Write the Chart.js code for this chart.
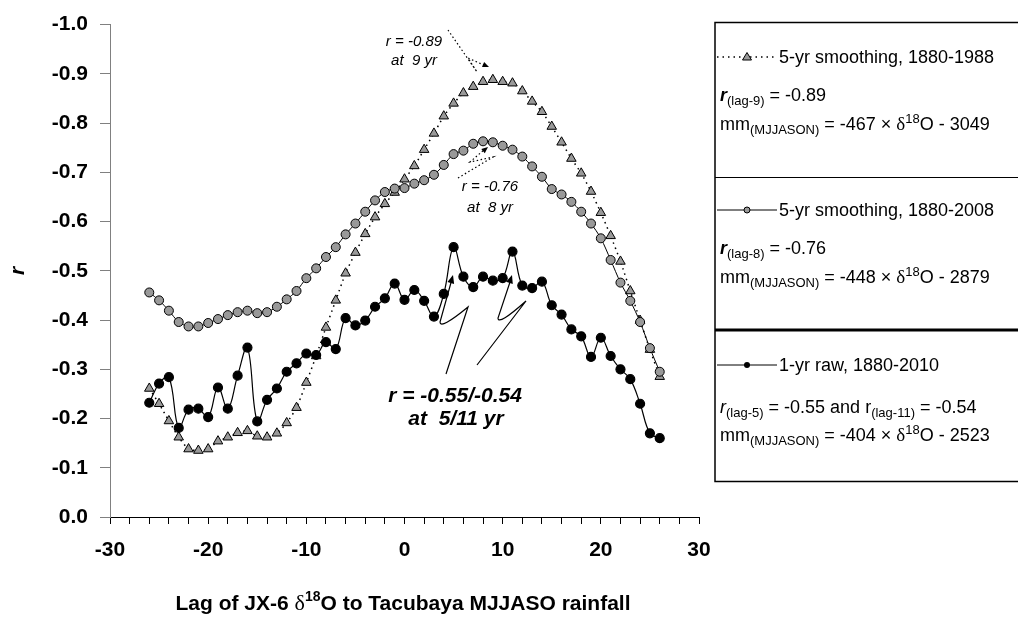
<!DOCTYPE html>
<html lang="en">
<head>
<meta charset="UTF-8">
<title>Lag correlation JX-6 vs Tacubaya</title>
<style>
  html, body { margin: 0; padding: 0; background: #fff; }
  #wrap { width: 1018px; height: 623px; }
</style>
<script src="https://cdn.jsdelivr.net/npm/chart.js"></script>
</head>
<body>
<div id="wrap"><canvas id="lagChart" width="1018" height="623"></canvas></div>
<script>
// lag in years, -26 .. 26
const lags = [-26, -25, -24, -23, -22, -21, -20, -19, -18, -17, -16, -15, -14, -13, -12, -11, -10, -9, -8, -7, -6, -5, -4, -3, -2, -1,
    0, 1, 2, 3, 4, 5, 6, 7, 8, 9, 10, 11, 12, 13, 14, 15, 16, 17, 18, 19, 20, 21, 22, 23, 24, 25, 26];

// 5-yr smoothing, 1880-1988 (triangles)
const smooth1988 = [-0.261, -0.230, -0.195, -0.162, -0.138, -0.135, -0.138, -0.154, -0.162, -0.171, -0.175, -0.164, -0.162, -0.170, -0.191, -0.222,
    -0.273, -0.327, -0.385, -0.440, -0.495, -0.537, -0.575, -0.609, -0.636, -0.659,
    -0.686, -0.713, -0.746, -0.779, -0.814, -0.840, -0.861, -0.874, -0.884, -0.888, -0.884, -0.881, -0.865, -0.844, -0.823, -0.793, -0.761,
    -0.728, -0.698, -0.661, -0.618, -0.571, -0.519, -0.459, -0.399, -0.340, -0.285];

// 5-yr smoothing, 1880-2008 (grey circles)
const smooth2008 = [-0.456, -0.440, -0.419, -0.396, -0.387, -0.387, -0.394, -0.402, -0.410, -0.416, -0.419, -0.414, -0.416, -0.427, -0.442, -0.459,
    -0.485, -0.505, -0.528, -0.548, -0.574, -0.596, -0.620, -0.643, -0.660, -0.667,
    -0.668, -0.677, -0.684, -0.695, -0.715, -0.737, -0.744, -0.758, -0.763, -0.761, -0.754, -0.746, -0.732, -0.712, -0.691, -0.666, -0.655,
    -0.640, -0.620, -0.596, -0.566, -0.522, -0.476, -0.439, -0.396, -0.343, -0.295];

// 1-yr raw, 1880-2010 (black circles)
const raw2010 = [-0.232, -0.271, -0.284, -0.181, -0.218, -0.220, -0.203, -0.263, -0.220, -0.287, -0.344, -0.194, -0.238, -0.261, -0.295, -0.312,
    -0.332, -0.329, -0.355, -0.341, -0.404, -0.389, -0.399, -0.427, -0.444, -0.474,
    -0.441, -0.461, -0.439, -0.407, -0.453, -0.548, -0.488, -0.467, -0.488, -0.480, -0.485, -0.539, -0.470, -0.465, -0.478, -0.430, -0.411,
    -0.381, -0.367, -0.325, -0.364, -0.327, -0.300, -0.280, -0.230, -0.170, -0.160];

const xLabelTicks = [-30, -20, -10, 0, 10, 20, 30];

const GREY = '#999999';

function pts(ys) {
    return lags.map((x, i) => ({ x: x, y: ys[i] }));
}

// draw a run of text pieces (normal / sub / sup) starting at x, baseline y
function rich(ctx, x, y, parts) {
    ctx.textAlign = 'left';
    ctx.textBaseline = 'alphabetic';
    parts.forEach(p => {
        ctx.font = p.f;
        ctx.fillText(p.t, x, y + (p.dy || 0));
        x += ctx.measureText(p.t).width;
    });
    return x;
}

function richWidth(ctx, parts) {
    let w = 0;
    parts.forEach(p => { ctx.font = p.f; w += ctx.measureText(p.t).width; });
    return w;
}

function arrowHead(ctx, x0, y0, x1, y1, size) {
    const a = Math.atan2(y1 - y0, x1 - x0);
    ctx.save();
    ctx.setLineDash([]);
    ctx.beginPath();
    ctx.moveTo(x1, y1);
    ctx.lineTo(x1 - size * Math.cos(a - 0.4), y1 - size * Math.sin(a - 0.4));
    ctx.lineTo(x1 - size * Math.cos(a + 0.4), y1 - size * Math.sin(a + 0.4));
    ctx.closePath();
    ctx.fill();
    ctx.restore();
}

const FONT = '"Liberation Sans", Arial, sans-serif';
const SERIF = '"Liberation Serif", "Times New Roman", serif';

const extras = {
    id: 'extras',
    afterDraw(chart) {
        const ctx = chart.ctx;
        ctx.save();
        ctx.fillStyle = '#000';
        ctx.strokeStyle = '#000';

        // ---- legend box ----
        const bx = 715, by = 22.5, bb = 481.5;
        ctx.lineWidth = 1.5;
        ctx.beginPath();
        ctx.moveTo(1020, by); ctx.lineTo(bx, by); ctx.lineTo(bx, bb); ctx.lineTo(1020, bb);
        ctx.stroke();
        ctx.lineWidth = 1;
        ctx.beginPath(); ctx.moveTo(bx, 177.5); ctx.lineTo(1020, 177.5); ctx.stroke();
        ctx.lineWidth = 3;
        ctx.beginPath(); ctx.moveTo(bx, 330); ctx.lineTo(1020, 330); ctx.stroke();

        const f18 = '18px ' + FONT;
        const f13 = '13px ' + FONT;
        const bi18 = 'italic bold 18px ' + FONT;
        const i18 = 'italic 18px ' + FONT;
        const d18 = '19px ' + SERIF;
        const tx = 720;

        // entry 1 - triangles, dotted
        ctx.lineWidth = 1.5;
        ctx.setLineDash([1.5, 4]);
        ctx.beginPath(); ctx.moveTo(717, 57); ctx.lineTo(777, 57); ctx.stroke();
        ctx.setLineDash([]);
        ctx.fillStyle = GREY;
        ctx.lineWidth = 1;
        ctx.beginPath(); ctx.moveTo(747, 52.5); ctx.lineTo(751.5, 60); ctx.lineTo(742.5, 60); ctx.closePath();
        ctx.fill(); ctx.stroke();
        ctx.fillStyle = '#000';
        rich(ctx, 779, 63, [{ t: '5-yr smoothing, 1880-1988', f: f18 }]);
        rich(ctx, tx, 101, [{ t: 'r', f: bi18 }, { t: '(lag-9)', f: f13, dy: 4 }, { t: ' = -0.89', f: f18 }]);
        rich(ctx, tx, 130, [{ t: 'mm', f: f18 }, { t: '(MJJASON)', f: f13, dy: 4 }, { t: ' = -467 \u00d7 ', f: f18 },
            { t: '\u03b4', f: d18 }, { t: '18', f: f13, dy: -7 }, { t: 'O - 3049', f: f18 }]);

        // entry 2 - grey circles
        ctx.lineWidth = 1;
        ctx.beginPath(); ctx.moveTo(717, 210); ctx.lineTo(777, 210); ctx.stroke();
        ctx.fillStyle = GREY;
        ctx.beginPath(); ctx.arc(747, 210, 3, 0, Math.PI * 2); ctx.fill(); ctx.stroke();
        ctx.fillStyle = '#000';
        rich(ctx, 779, 216, [{ t: '5-yr smoothing, 1880-2008', f: f18 }]);
        rich(ctx, tx, 254, [{ t: 'r', f: bi18 }, { t: '(lag-8)', f: f13, dy: 4 }, { t: ' = -0.76', f: f18 }]);
        rich(ctx, tx, 283, [{ t: 'mm', f: f18 }, { t: '(MJJASON)', f: f13, dy: 4 }, { t: ' = -448 \u00d7 ', f: f18 },
            { t: '\u03b4', f: d18 }, { t: '18', f: f13, dy: -7 }, { t: 'O - 2879', f: f18 }]);

        // entry 3 - black circles
        ctx.beginPath(); ctx.moveTo(717, 365); ctx.lineTo(777, 365); ctx.stroke();
        ctx.beginPath(); ctx.arc(747, 365, 3, 0, Math.PI * 2); ctx.fill();
        rich(ctx, 779, 371, [{ t: '1-yr raw, 1880-2010', f: f18 }]);
        rich(ctx, tx, 413, [{ t: 'r', f: i18 }, { t: '(lag-5)', f: f13, dy: 4 }, { t: ' = -0.55 and r', f: f18 },
            { t: '(lag-11)', f: f13, dy: 4 }, { t: ' = -0.54', f: f18 }]);
        rich(ctx, tx, 441, [{ t: 'mm', f: f18 }, { t: '(MJJASON)', f: f13, dy: 4 }, { t: ' = -404 \u00d7 ', f: f18 },
            { t: '\u03b4', f: d18 }, { t: '18', f: f13, dy: -7 }, { t: 'O - 2523', f: f18 }]);

        // ---- x axis title ----
        const b21 = 'bold 21px ' + FONT;
        const tparts = [{ t: 'Lag of JX-6 ', f: b21 }, { t: '\u03b4', f: '22px ' + SERIF }, { t: '18', f: 'bold 14px ' + FONT, dy: -9 },
            { t: 'O to Tacubaya MJJASO rainfall', f: b21 }];
        const tw = richWidth(ctx, tparts);
        rich(ctx, 403 - tw / 2, 610, tparts);

        // ---- annotations ----
        ctx.textAlign = 'center';
        ctx.textBaseline = 'middle';
        ctx.font = 'italic 15px ' + FONT;
        ctx.fillText('r = -0.89', 414, 42);
        ctx.fillText('at  9 yr', 414, 61);
        ctx.fillText('r = -0.76', 490, 187);
        ctx.fillText('at  8 yr', 490, 208);
        ctx.font = 'italic bold 21px ' + FONT;
        ctx.fillText('r = -0.55/-0.54', 455, 396);
        ctx.fillText('at  5/11 yr', 456, 419);

        // dotted arrows (grey series / triangle series)
        ctx.lineWidth = 1.2;
        ctx.setLineDash([1.5, 2.5]);
        ctx.beginPath();
        ctx.moveTo(448, 30); ctx.lineTo(477, 72); ctx.lineTo(468, 58); ctx.lineTo(486, 66);
        ctx.stroke();
        arrowHead(ctx, 468, 58, 489, 67, 7);
        ctx.beginPath();
        ctx.moveTo(458, 178); ctx.lineTo(493, 157); ctx.lineTo(470, 162); ctx.lineTo(485, 149);
        ctx.stroke();
        arrowHead(ctx, 470, 162, 488, 147, 7);
        ctx.setLineDash([]);

        // solid zig-zag arrows to the raw peaks
        ctx.lineWidth = 1.2;
        ctx.beginPath();
        ctx.moveTo(446, 374); ctx.lineTo(468, 307);
        ctx.quadraticCurveTo(440, 330, 440, 322);
        ctx.lineTo(452, 279);
        ctx.stroke();
        arrowHead(ctx, 440, 322, 453, 275, 9);
        ctx.beginPath();
        ctx.moveTo(477, 365); ctx.lineTo(526, 301);
        ctx.quadraticCurveTo(498, 326, 498, 318);
        ctx.lineTo(511, 279);
        ctx.stroke();
        arrowHead(ctx, 498, 318, 512, 275, 9);

        ctx.restore();
    }
};

const yAxisWidth = 110;
const xAxisHeight = 106;

new Chart(document.getElementById('lagChart').getContext('2d'), {
    type: 'line',
    data: {
        datasets: [
            {
                label: '1-yr raw, 1880-2010',
                data: pts(raw2010),
                borderColor: '#000',
                borderWidth: 1.2,
                pointRadius: 4.5,
                pointBackgroundColor: '#000',
                pointBorderColor: '#000',
                tension: 0.4
            },
            {
                label: '5-yr smoothing, 1880-2008',
                data: pts(smooth2008),
                borderColor: '#000',
                borderWidth: 1,
                pointRadius: 4.5,
                pointBackgroundColor: GREY,
                pointBorderColor: '#000',
                pointBorderWidth: 1,
                tension: 0.3
            },
            {
                label: '5-yr smoothing, 1880-1988',
                data: pts(smooth1988),
                borderColor: '#000',
                borderWidth: 1.5,
                borderDash: [1.5, 4],
                pointStyle: 'triangle',
                pointRadius: 5.5,
                pointBackgroundColor: GREY,
                pointBorderColor: '#000',
                pointBorderWidth: 1,
                tension: 0.2
            }
        ]
    },
    options: {
        responsive: false,
        animation: false,
        layout: { padding: { top: 22, right: 319, left: 0, bottom: 0 } },
        plugins: {
            legend: { display: false },
            tooltip: { enabled: false }
        },
        scales: {
            x: {
                type: 'linear',
                min: -30,
                max: 30,
                afterFit: s => { s.height = xAxisHeight; },
                border: { color: '#000', width: 1 },
                grid: { drawOnChartArea: false, tickLength: 7, color: '#000' },
                ticks: {
                    stepSize: 2,
                    autoSkip: false,
                    maxRotation: 0,
                    padding: 14,
                    color: '#000',
                    font: { family: FONT, size: 21, weight: 'bold' },
                    callback: v => xLabelTicks.includes(v) ? String(v) : ''
                },
                title: { display: false }
            },
            y: {
                type: 'linear',
                min: -1,
                max: 0,
                reverse: true,
                afterFit: s => { s.width = yAxisWidth; },
                border: { color: '#808080', width: 1 },
                grid: { drawOnChartArea: false, tickLength: 10, color: '#808080' },
                ticks: {
                    stepSize: 0.1,
                    padding: 12,
                    color: '#000',
                    font: { family: FONT, size: 21, weight: 'bold' },
                    callback: v => Math.abs(v) < 1e-9 ? '0.0' : v.toFixed(1)
                },
                title: {
                    display: true,
                    text: 'r',
                    color: '#000',
                    padding: { top: 6, bottom: 0 },
                    font: { family: FONT, size: 21, weight: 'bold', style: 'italic' }
                }
            }
        }
    },
    plugins: [extras]
});
</script>
</body>
</html>
